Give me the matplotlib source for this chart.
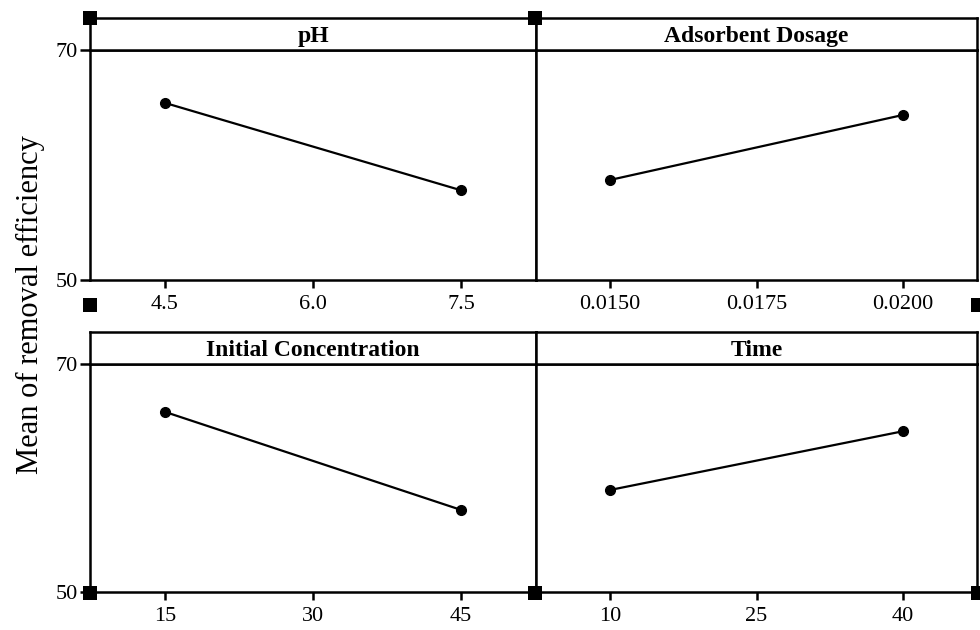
"""Main effects plot for removal efficiency (Minitab style)."""

import matplotlib
matplotlib.use("Agg")
import matplotlib.pyplot as plt
from matplotlib.patches import Rectangle

# factor names, levels and mean response at each level
factors = ["pH", "Adsorbent Dosage", "Initial Concentration", "Time"]
ph_levels = [4.5, 7.5]
ph_means = [65.4, 57.8]
dose_levels = [0.015, 0.020]
dose_means = [58.7, 64.35]
conc_levels = [15, 45]
conc_means = [65.8, 57.2]
time_levels = [10, 40]
time_means = [58.95, 64.1]

ph_ticks = [4.5, 6.0, 7.5]
ph_ticklabels = ["4.5", "6.0", "7.5"]
dose_ticks = [0.015, 0.0175, 0.020]
dose_ticklabels = ["0.0150", "0.0175", "0.0200"]
conc_ticks = [15, 30, 45]
conc_ticklabels = ["15", "30", "45"]
time_ticks = [10, 25, 40]
time_ticklabels = ["10", "25", "40"]

y_ticks = [50, 70]
y_label = "Mean of removal efficiency"

panels = [
    (factors[0], ph_levels, ph_means, ph_ticks, ph_ticklabels),
    (factors[1], dose_levels, dose_means, dose_ticks, dose_ticklabels),
    (factors[2], conc_levels, conc_means, conc_ticks, conc_ticklabels),
    (factors[3], time_levels, time_means, time_ticks, time_ticklabels),
]

W, H = 980, 630
FONT = "Liberation Serif"
LW = 1.8

fig = plt.figure(figsize=(W / 100, H / 100), dpi=100)
fig.patch.set_facecolor("white")


def px_box(x0, y0, x1, y1):
    # pixel box (top-left origin) -> figure fraction [l, b, w, h]
    return [x0 / W, 1 - y1 / H, (x1 - x0) / W, (y1 - y0) / H]


cols = [(90, 536), (536, 977)]
rows = [(18, 50, 280), (332, 364, 592)]

for i, (name, levels, means, ticks, ticklabels) in enumerate(panels):
    r, c = divmod(i, 2)
    x0, x1 = cols[c]
    top, strip_bot, bot = rows[r]

    ax = fig.add_axes(px_box(x0, strip_bot, x1, bot))
    ax.plot(levels, means, color="black", linewidth=1.6, marker="o",
            markersize=7, markerfacecolor="black")
    span = ticks[-1] - ticks[0]
    ax.set_xlim(ticks[0] - 0.253 * span, ticks[-1] + 0.253 * span)
    ax.set_ylim(50, 70)
    ax.set_xticks(ticks)
    ax.set_xticklabels(ticklabels, fontfamily=FONT, fontsize=16)
    ax.tick_params(axis="x", direction="out", length=6, width=LW, pad=5)
    if c == 0:
        ax.set_yticks(y_ticks)
        ax.set_yticklabels([str(t) for t in y_ticks], fontfamily=FONT, fontsize=16)
        ax.tick_params(axis="y", direction="out", length=7, width=LW, pad=2)
    else:
        ax.set_yticks([])
    for s in ax.spines.values():
        s.set_linewidth(LW)

    sax = fig.add_axes(px_box(x0, top, x1, strip_bot))
    sax.set_xticks([])
    sax.set_yticks([])
    for s in sax.spines.values():
        s.set_linewidth(LW)
    sax.text(0.5, 0.42, name, ha="center", va="center", fontfamily=FONT,
             fontsize=17, fontweight="bold", transform=sax.transAxes)

fig.text(30 / W, 1 - 305 / H, y_label, rotation=90, ha="center", va="center",
         fontfamily=FONT, fontsize=22)

# selection handles left by the graph editor
for cx, cy in [(90, 18), (535, 18), (90, 305), (978, 305),
               (90, 593), (535, 593), (978, 593)]:
    fig.add_artist(Rectangle(((cx - 7) / W, 1 - (cy + 7) / H), 14 / W, 14 / H,
                             transform=fig.transFigure, facecolor="black",
                             edgecolor="none", zorder=10))

fig.savefig("out.png", dpi=100, facecolor="white")
